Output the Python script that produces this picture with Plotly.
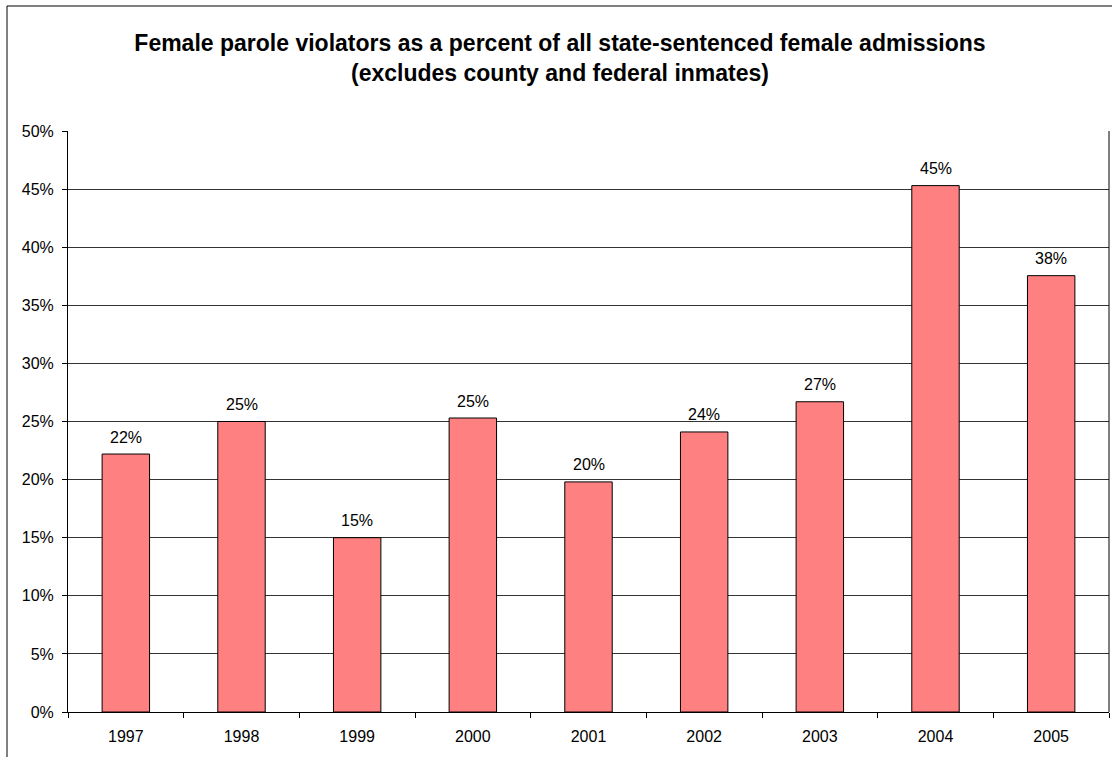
import plotly.graph_objects as go

years = ["1997", "1998", "1999", "2000", "2001", "2002", "2003", "2004", "2005"]
pct_values = [22.2, 25.0, 15.0, 25.3, 19.8, 24.1, 26.7, 45.3, 37.55]
y_ticks = [0, 5, 10, 15, 20, 25, 30, 35, 40, 45, 50]
y_tick_labels = [f"{v}%" for v in y_ticks]
labels = [f"{round(v)}%" for v in pct_values]

W, H = 1112, 757
ml, mr, mt, mb = 68, 3, 131, 45
pw = W - ml - mr
ph = H - mt - mb
FONT = "Liberation Sans, Arial"

fig = go.Figure()
fig.add_trace(go.Bar(
    x=years, y=pct_values,
    marker=dict(color="#FF8080", line=dict(color="black", width=1)),
    width=0.41, hoverinfo="skip",
))

# value labels (category axis: annotation x is the category's serial index)
for i, (v, lab) in enumerate(zip(pct_values, labels)):
    fig.add_annotation(x=i, y=v, xref="x", yref="y", text=lab, showarrow=False,
                       xanchor="center", yanchor="middle", yshift=17,
                       font=dict(family=FONT, size=16, color="black"))

fig.update_layout(
    width=W, height=H,
    margin=dict(l=ml, r=mr, t=mt, b=mb),
    paper_bgcolor="white", plot_bgcolor="white",
    showlegend=False,
    font=dict(family=FONT, size=16, color="black"),
    title=dict(
        text="<b>Female parole violators as a percent of all state-sentenced female admissions<br>(excludes county and federal inmates)</b>",
        x=560 / W, xanchor="center", y=1 - 51 / H, yanchor="middle",
        font=dict(family=FONT, size=23, color="black"),
    ),
    xaxis=dict(
        type="category", range=[-0.5, 8.5], tickson="boundaries",
        ticks="outside", ticklen=5, tickcolor="black", tickwidth=1,
        showline=True, linecolor="black", linewidth=1, mirror=False,
        showgrid=False, tickfont=dict(size=16), ticklabelstandoff=10,
    ),
    yaxis=dict(
        range=[0, 50], tickvals=y_ticks, ticktext=y_tick_labels,
        ticks="outside", ticklen=5, tickcolor="black", tickwidth=1,
        showline=True, linecolor="black", linewidth=1,
        showgrid=True, gridcolor="#333333", gridwidth=1,
        zeroline=False, tickfont=dict(size=16), ticklabelstandoff=5,
    ),
    bargap=0.59,
)

# plot area right edge line
fig.add_shape(type="line", xref="paper", yref="paper", x0=1, x1=1, y0=0, y1=1,
              line=dict(color="black", width=1))
# chart area border
fig.add_shape(type="rect", xref="paper", yref="paper",
              x0=(7 - ml) / pw, x1=(W + 5 - ml) / pw,
              y0=-(H + 5 - mt - ph) / ph, y1=1 + (mt - 6) / ph,
              line=dict(color="black", width=1), fillcolor="rgba(0,0,0,0)", layer="above")

fig.write_html("out.html", config={"displayModeBar": False},
               post_script="document.body.style.margin='0';document.body.style.overflow='hidden';")
